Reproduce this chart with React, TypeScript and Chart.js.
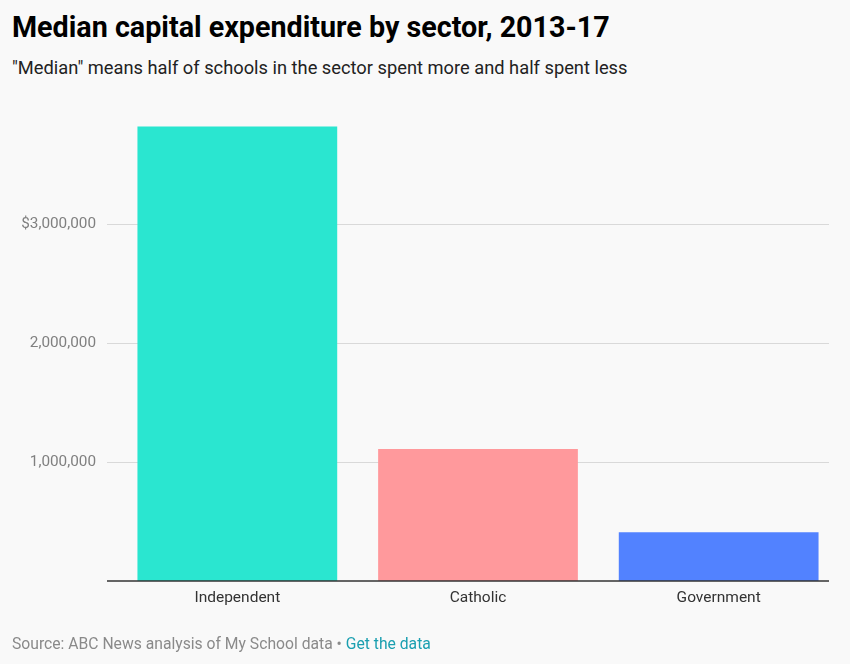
import React, { useEffect, useRef } from "react";
import { Chart, registerables } from "chart.js";

Chart.register(...registerables);

const categories = ["Independent", "Catholic", "Government"];
const values = [3820000, 1110000, 410000];
const barColors = ["#2ae6d0", "#ff999c", "#5282ff"];
const yTicks = [1000000, 2000000, 3000000];
const yTickLabels = ["1,000,000", "2,000,000", "$3,000,000"];

const FONT = "Roboto, 'Noto Sans', sans-serif";

const gridPlugin = {
  id: "customGrid",
  beforeDatasetsDraw(chart: any) {
    const ctx = chart.ctx;
    const y = chart.scales.y;
    ctx.save();
    ctx.lineWidth = 1;
    ctx.strokeStyle = "#d9d9d9";
    for (const v of yTicks) {
      const py = Math.round(y.getPixelForValue(v)) + 0.5;
      ctx.beginPath();
      ctx.moveTo(107, py);
      ctx.lineTo(829, py);
      ctx.stroke();
    }
    ctx.restore();
  },
  afterDatasetsDraw(chart: any) {
    const ctx = chart.ctx;
    const y = chart.scales.y;
    ctx.save();
    ctx.lineWidth = 1.5;
    ctx.strokeStyle = "#333333";
    const py = y.getPixelForValue(0);
    ctx.beginPath();
    ctx.moveTo(107, py);
    ctx.lineTo(829, py);
    ctx.stroke();
    ctx.restore();
  },
};

function BarChart() {
  const ref = useRef<HTMLCanvasElement | null>(null);
  useEffect(() => {
    if (!ref.current) return;
    const chart = new Chart(ref.current, {
      type: "bar",
      data: {
        labels: categories,
        datasets: [
          {
            data: values,
            backgroundColor: barColors,
            borderWidth: 0,
            barPercentage: 0.83,
            categoryPercentage: 1,
          },
        ],
      },
      options: {
        animation: false,
        responsive: false,
        maintainAspectRatio: false,
        layout: { padding: { top: 105, left: 0, right: 11, bottom: 43 } },
        plugins: {
          legend: { display: false },
          tooltip: { enabled: false },
        },
        scales: {
          x: {
            grid: { display: false, drawTicks: false },
            border: { display: false },
            ticks: {
              color: "#333333",
              font: { family: FONT, size: 15.5 },
              padding: 8,
            },
            afterFit(scale: any) {
              scale.height = 40;
            },
          },
          y: {
            min: 0,
            max: 4000000,
            grid: { display: false, drawTicks: false },
            border: { display: false },
            afterBuildTicks(scale: any) {
              scale.ticks = yTicks.map((v) => ({ value: v }));
            },
            ticks: {
              color: "#808080",
              font: { family: FONT, size: 15.3 },
              padding: 21,
              callback: (v: any) => {
                const i = yTicks.indexOf(Number(v));
                return i >= 0 ? yTickLabels[i] : "";
              },
            },
            afterFit(scale: any) {
              scale.width = 117;
            },
          },
        },
      },
      plugins: [gridPlugin],
    });
    return () => chart.destroy();
  }, []);
  return (
    <canvas
      ref={ref}
      width={850}
      height={664}
      style={{ display: "block", width: 850, height: 664 }}
    />
  );
}

export default function App() {
  useEffect(() => {
    document.body.style.margin = "0";
  }, []);
  return (
    <div
      style={{
        position: "relative",
        width: 850,
        height: 664,
        background: "#f9f9f9",
        fontFamily: FONT,
        overflow: "hidden",
      }}
    >
      <div
        style={{
          position: "absolute",
          left: 12,
          top: 9,
          fontSize: 28.7,
          fontWeight: 700,
          color: "#000",
          lineHeight: "36px",
          whiteSpace: "nowrap",
        }}
      >
        Median capital expenditure by sector, 2013-17
      </div>
      <div
        style={{
          position: "absolute",
          left: 12,
          top: 56,
          fontSize: 18.3,
          color: "#222",
          lineHeight: "24px",
          whiteSpace: "nowrap",
        }}
      >
        "Median" means half of schools in the sector spent more and half spent less
      </div>
      <div style={{ position: "absolute", left: 0, top: 0, width: 850, height: 664 }}>
        <BarChart />
      </div>
      <div
        style={{
          position: "absolute",
          left: 12,
          top: 634,
          fontSize: 15.7,
          color: "#8a8a8a",
          lineHeight: "20px",
          whiteSpace: "nowrap",
        }}
      >
        Source: ABC News analysis of My School data •{" "}
        <span style={{ color: "#1a9fb0" }}>Get the data</span>
      </div>
    </div>
  );
}
